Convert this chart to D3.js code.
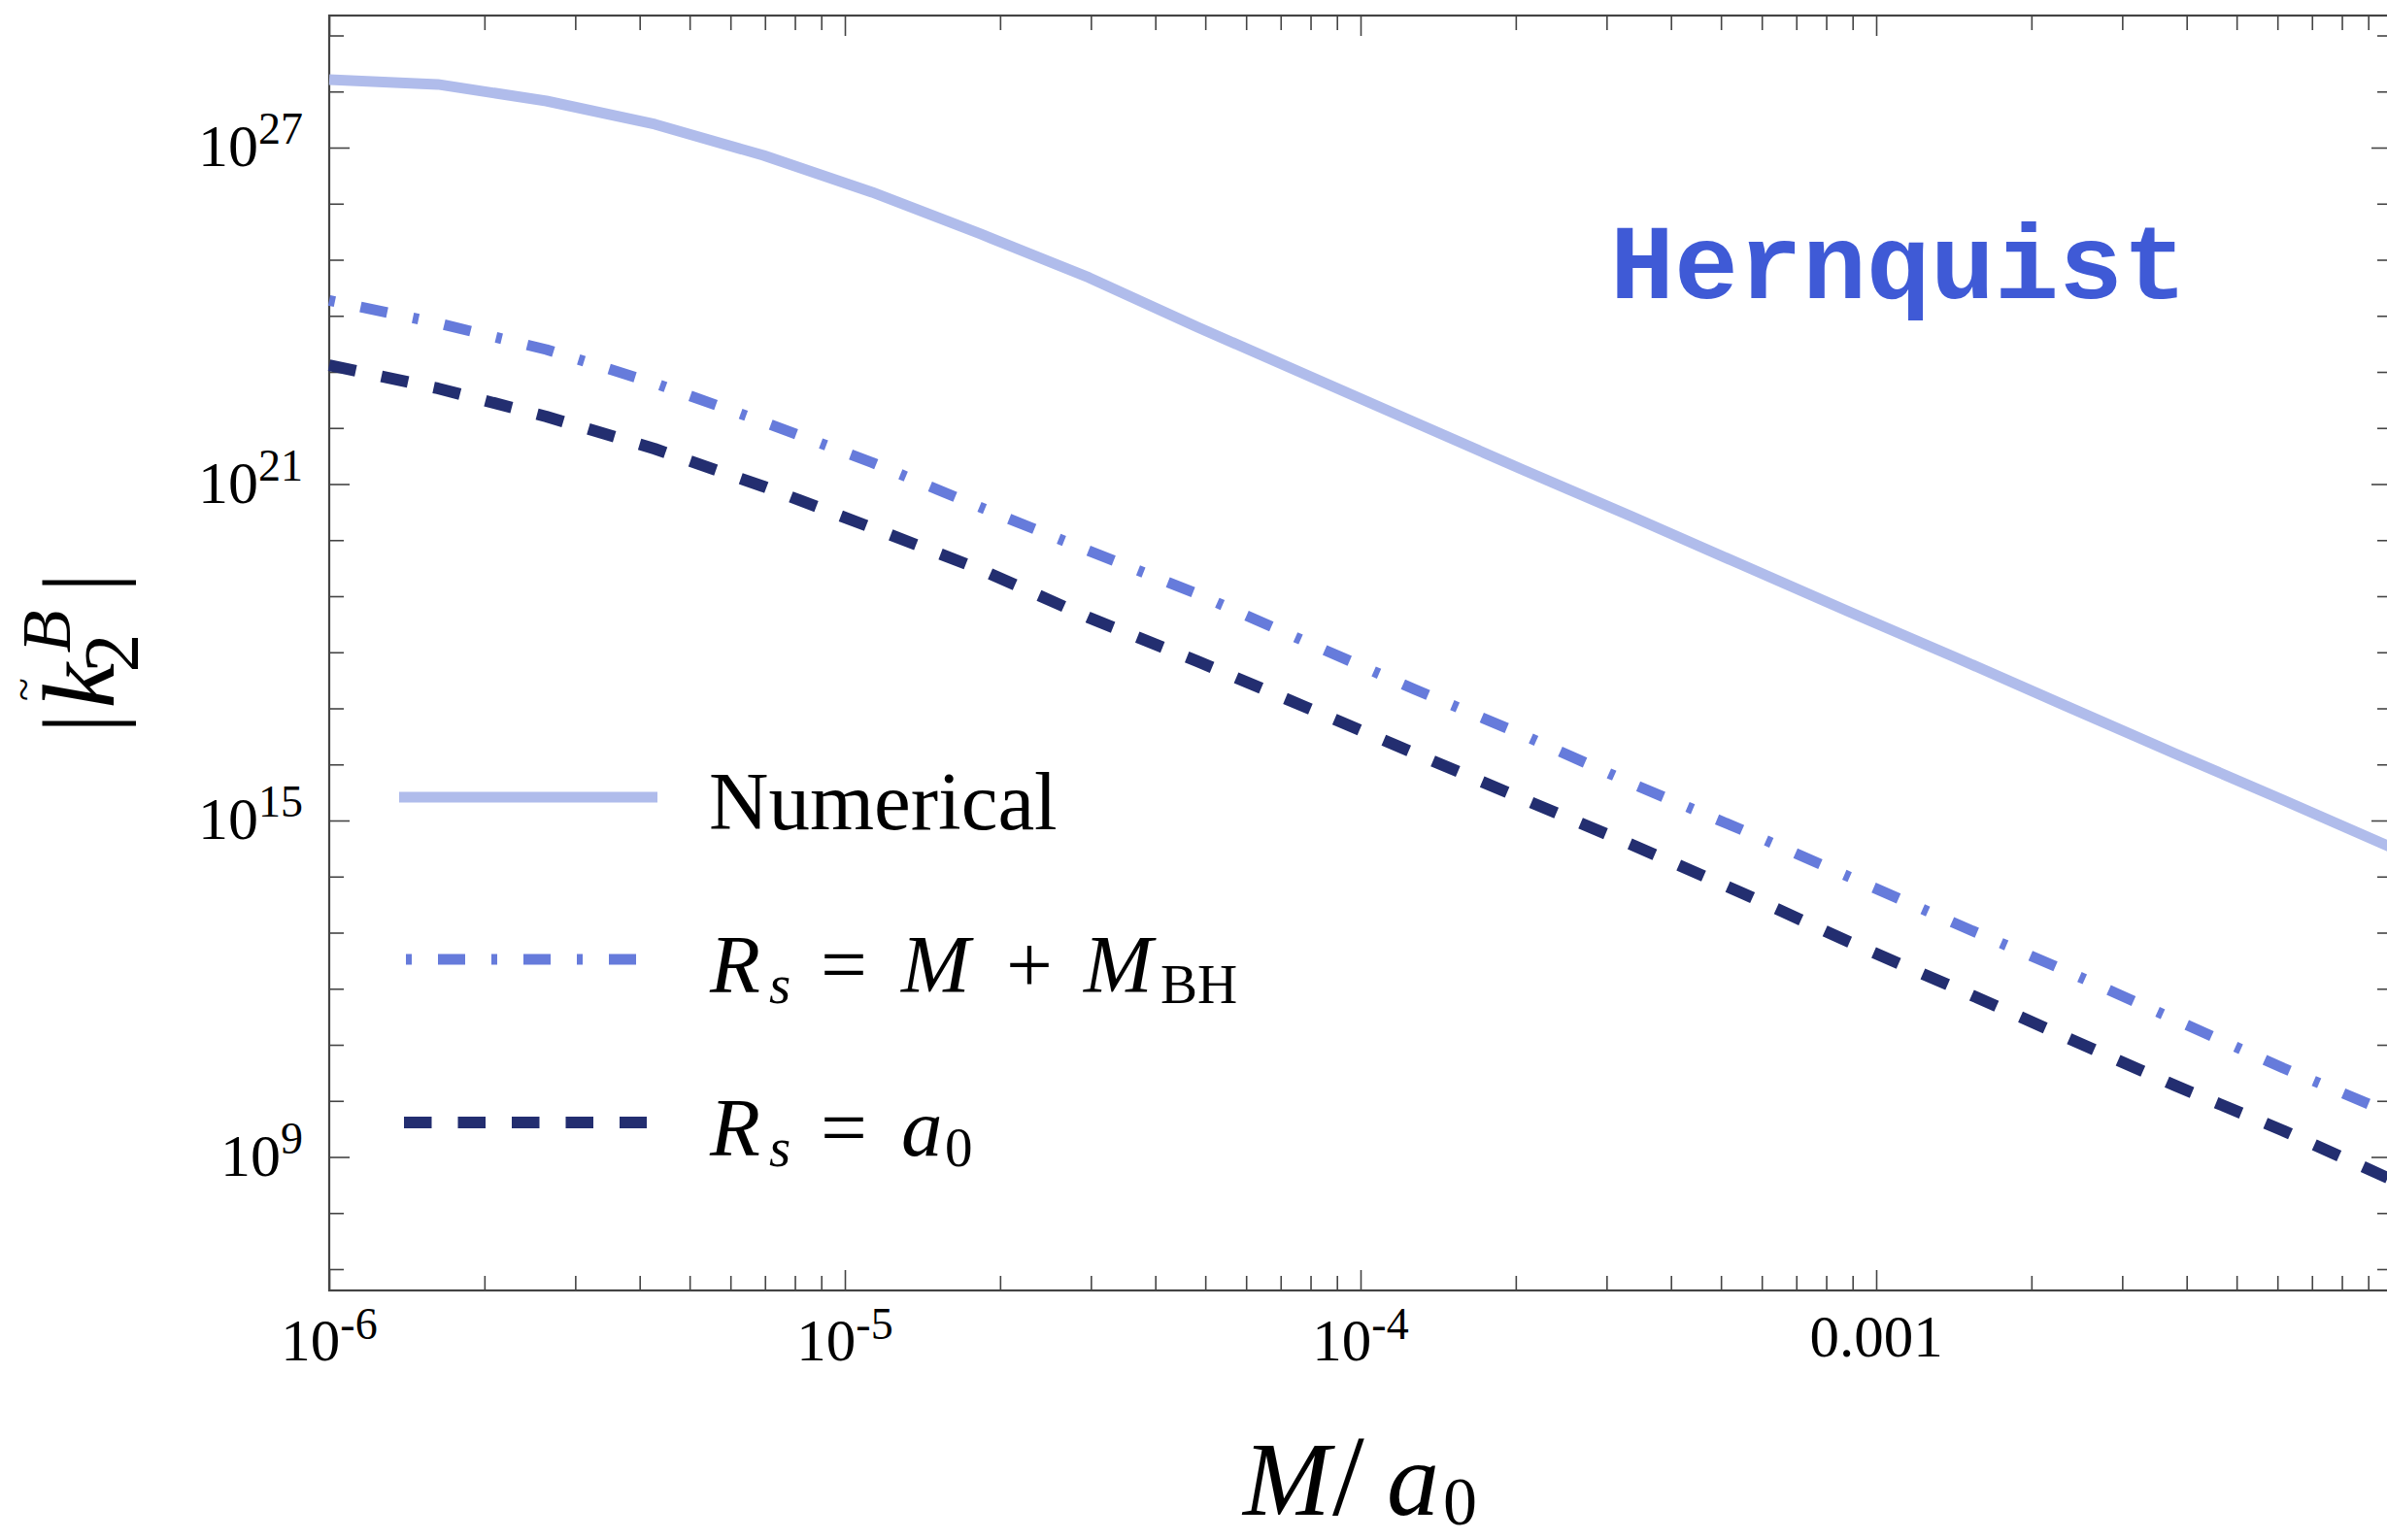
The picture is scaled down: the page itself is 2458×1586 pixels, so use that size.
<!DOCTYPE html>
<html>
<head>
<meta charset="utf-8">
<script src="https://cdn.jsdelivr.net/npm/d3@7"></script>
<style>
body { margin: 0; background: #fff; }
svg { display: block; }
text { font-family: "Liberation Serif", "Times New Roman", serif; fill: #000; }
</style>
</head>
<body>
<svg id="chart" width="2458" height="1586"></svg>
<script>

// M/a0 sample points (log spaced)
var massRatio = [1.000e-6, 1.624e-6, 2.637e-6, 4.281e-6, 6.952e-6, 1.129e-5, 1.833e-5, 2.976e-5, 4.833e-5, 7.848e-5,
                 1.274e-4, 2.069e-4, 3.360e-4, 5.456e-4, 8.859e-4, 1.438e-3, 2.336e-3, 3.793e-3, 6.158e-3, 1.000e-2]

// |k2^B| curves
var kNumerical = [1.63e28, 1.34e28, 6.78e27, 2.61e27, 7.26e26, 1.60e26, 2.88e25, 4.79e24, 6.27e23, 8.87e22,
                  1.26e22, 1.78e21, 2.63e20, 3.72e19, 5.28e18, 7.80e17, 1.10e17, 1.57e16, 2.31e15, 3.27e14]
var kMplusBH   = [1.88e24, 7.40e23, 2.50e23, 6.27e22, 1.28e22, 2.42e21, 3.84e20, 6.41e19, 1.09e19, 1.53e18,
                  2.18e17, 3.34e16, 4.55e15, 6.98e14, 9.91e13, 1.40e13, 2.07e12, 2.82e11, 3.84e10, 5.90e9]
var kA0        = [1.32e23, 5.08e22, 1.60e22, 4.24e21, 9.06e20, 1.66e20, 2.99e19, 4.13e18, 6.89e17, 1.04e17,
                  1.58e16, 2.40e15, 3.69e14, 5.25e13, 6.84e12, 9.93e11, 1.36e11, 1.89e10, 2.94e9, 3.92e8]

// tick labels
var xLabelValues = [1e-6, 1e-5, 1e-4, 1e-3]
var xLabelBase   = ["10", "10", "10", "0.001"]
var xLabelExp    = ["-6", "-5", "-4", ""]
var yLabelValues = [1e9, 1e15, 1e21, 1e27]
var yLabelExp    = ["9", "15", "21", "27"]

var svg = d3.select("#chart")

// plot box ("top" is taken by window.top, so prefixed names)
var pLeft = 339, pRight = 2463, pTop = 16, pBottom = 1329

var x = d3.scaleLog().domain([1e-6, 1e-2]).range([pLeft, pRight])
var y = d3.scaleLog().domain([4.16e6, 2.265e29]).range([pBottom, pTop])

// ---- ticks (inward, Mathematica style)
var xMajor = [1e-6, 1e-5, 1e-4, 1e-3, 1e-2]
var xMinor = []
for (var e = -6; e < -2; e++)
	for (var m = 2; m <= 9; m++)
		xMinor.push(m * Math.pow(10, e))

var yMajor = yLabelValues
var yMinor = []
for (var p = 7; p <= 29; p++)
	if ([9, 15, 21, 27].indexOf(p) < 0)
		yMinor.push(Math.pow(10, p))

function tickAxis(axis, vals, size, tr) {
	var g = svg.append("g")
		.attr("transform", tr)
		.call(axis.tickValues(vals).tickSize(-size).tickSizeOuter(0).tickFormat(""))
	g.select(".domain").remove()
	g.selectAll("line").attr("stroke", "#444").attr("stroke-width", 1.6)
}

tickAxis(d3.axisBottom(x), xMajor, 21, "translate(0," + pBottom + ")")
tickAxis(d3.axisBottom(x), xMinor, 15, "translate(0," + pBottom + ")")
tickAxis(d3.axisTop(x), xMajor, 21, "translate(0," + pTop + ")")
tickAxis(d3.axisTop(x), xMinor, 15, "translate(0," + pTop + ")")
tickAxis(d3.axisLeft(y), yMajor, 21, "translate(" + pLeft + ",0)")
tickAxis(d3.axisLeft(y), yMinor, 15, "translate(" + pLeft + ",0)")
tickAxis(d3.axisRight(y), yMajor, 21, "translate(" + pRight + ",0)")
tickAxis(d3.axisRight(y), yMinor, 15, "translate(" + pRight + ",0)")

// frame
svg.append("rect")
	.attr("x", pLeft).attr("y", pTop)
	.attr("width", pRight - pLeft).attr("height", pBottom - pTop)
	.attr("fill", "none").attr("stroke", "#444").attr("stroke-width", 2.2)

// ---- tick labels
xLabelValues.forEach(function(v, i) {
	var t = svg.append("text")
		.attr("x", x(v))
		.attr("y", xLabelExp[i] ? 1401 : 1397)
		.attr("text-anchor", "middle")
		.attr("font-size", 61)
		.text(xLabelBase[i])
	if (xLabelExp[i])
		t.append("tspan").attr("dy", -22).attr("font-size", 46).text(xLabelExp[i])
})

yLabelValues.forEach(function(v, i) {
	svg.append("text")
		.attr("x", 312)
		.attr("y", y(v) + 19)
		.attr("text-anchor", "end")
		.attr("font-size", 62)
		.text("10")
		.append("tspan").attr("dy", -23).attr("font-size", 46).text(yLabelExp[i])
})

// ---- curves
function series(vals) {
	return massRatio.map(function(d, i) { return [d, vals[i]] })
}

var line = d3.line()
	.x(function(d) { return x(d[0]) })
	.y(function(d) { return y(d[1]) })

var curves = [
	{ data: kNumerical, color: "#b0bceb", width: 11, dash: null },
	{ data: kMplusBH,   color: "#667bdb", width: 11, dash: "6 27 28 27" },
	{ data: kA0,        color: "#232e70", width: 12, dash: "28 27" }
]

curves.forEach(function(c) {
	svg.append("path")
		.datum(series(c.data))
		.attr("d", line)
		.attr("fill", "none")
		.attr("stroke", c.color)
		.attr("stroke-width", c.width)
		.attr("stroke-linejoin", "round")
		.attr("stroke-dasharray", c.dash)
})

// ---- legend
var leg = svg.append("g")
leg.append("line").attr("x1", 411).attr("x2", 677).attr("y1", 821).attr("y2", 821)
	.attr("stroke", curves[0].color).attr("stroke-width", 11)
leg.append("line").attr("x1", 418).attr("x2", 658).attr("y1", 988).attr("y2", 988)
	.attr("stroke", curves[1].color).attr("stroke-width", 11).attr("stroke-dasharray", curves[1].dash)
leg.append("line").attr("x1", 416).attr("x2", 666).attr("y1", 1156).attr("y2", 1156)
	.attr("stroke", curves[2].color).attr("stroke-width", 12).attr("stroke-dasharray", "28.5 27")

leg.append("text").attr("x", 730).attr("y", 854).attr("font-size", 85).text("Numerical")

function mathRow(yb, parts) {
	var t = leg.append("text").attr("font-size", 85)
	parts.forEach(function(p) {
		t.append("tspan")
			.attr("x", p[0])
			.attr("y", yb + (p[3] ? 11 : 0))
			.attr("font-style", p[2] ? "italic" : "normal")
			.attr("font-size", p[3] ? 57 : 85)
			.text(p[1])
	})
}
mathRow(1022, [[731, "R", 1], [792, "s", 1, 1], [845, "=", 0], [928, "M", 1], [1036, "+", 0], [1116, "M", 1], [1195, "BH", 0, 1]])
mathRow(1190, [[731, "R", 1], [792, "s", 1, 1], [845, "=", 0], [928, "a", 1], [973, "0", 0, 1]])

// ---- Hernquist tag
svg.append("text")
	.attr("x", 1658).attr("y", 307)
	.style("font-family", "'Liberation Mono', 'Courier New', monospace")
	.attr("font-weight", "bold")
	.attr("font-size", 110)
	.style("fill", "#3f5ad6")
	.text("Hernquist")

// ---- axis titles
svg.append("text").attr("x", 1280).attr("y", 1560).attr("font-size", 108)
	.attr("font-style", "italic").text("M")
svg.append("text").attr("x", 1372).attr("y", 1560).attr("font-size", 118).text("/")
svg.append("text").attr("x", 1428).attr("y", 1560).attr("font-size", 108)
	.attr("font-style", "italic").text("a")
svg.append("text").attr("x", 1486).attr("y", 1570).attr("font-size", 70).text("0")

var yt = svg.append("g").attr("transform", "translate(117,672.5) rotate(-90)")
yt.append("text").attr("x", -72.5).attr("y", 0).attr("text-anchor", "middle").attr("font-size", 105).text("|")
yt.append("text").attr("x", -57).attr("y", 0).attr("font-size", 105).attr("font-style", "italic").text("k")
yt.append("text").attr("x", -37.5).attr("y", -78).attr("text-anchor", "middle").attr("font-size", 44).text("~")
yt.append("text").attr("x", 0).attr("y", -45).attr("font-size", 72).attr("font-style", "italic").text("B")
yt.append("text").attr("x", -20).attr("y", 25).attr("font-size", 80).text("2")
yt.append("text").attr("x", 72.5).attr("y", 0).attr("text-anchor", "middle").attr("font-size", 105).text("|")

</script>
</body>
</html>
